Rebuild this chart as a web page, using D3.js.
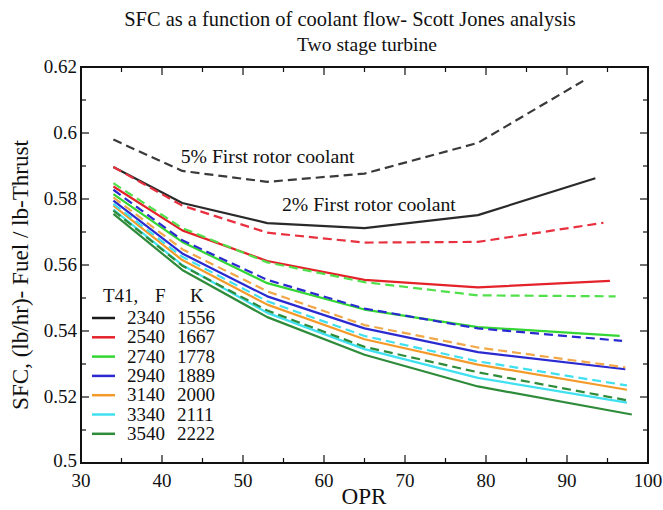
<!DOCTYPE html>
<html><head><meta charset="utf-8">
<script src="https://cdn.jsdelivr.net/npm/d3@7"></script>
<style>body{margin:0;background:#fff}</style>
</head><body><svg id="c" width="663" height="510"></svg>
<script>
// ---- data ----
const oprPoints = [34, 42.5, 53, 65, 79];
const seriesNames = ["5% rotor", "2340 solid", "2540 dashed", "2540 solid", "2740 dashed", "2740 solid", "2940 dashed", "2940 solid", "3140 dashed", "3140 solid", "3340 dashed", "3340 solid", "3540 dashed", "3540 solid"];
const seriesColors = ["#3a3a3a", "#2a2a2a", "#e8303f", "#e4222a", "#4fe04a", "#33d633", "#2a2ad0", "#2a2ad0", "#f2a848", "#f39a2a", "#3fe0f0", "#3fe0f0", "#2e8b3a", "#2e8b3a"];
const seriesDashed = [true, false, true, false, true, false, true, false, true, false, true, false, true, false];
const sfc5 = [0.598, 0.5885, 0.5852, 0.5877, 0.597, 0.6158];
const sfc2340 = [0.5897, 0.5788, 0.5727, 0.5712, 0.5751, 0.5863];
const sfc2540d = [0.5897, 0.578, 0.5698, 0.5668, 0.567, 0.5728];
const sfc2540 = [0.5838, 0.5705, 0.5612, 0.5555, 0.5532, 0.5552];
const sfc2740d = [0.5848, 0.5712, 0.5608, 0.5548, 0.5508, 0.5505];
const sfc2740 = [0.5815, 0.567, 0.5545, 0.5465, 0.5412, 0.5385];
const sfc2940d = [0.5828, 0.5675, 0.5555, 0.5468, 0.5408, 0.537];
const sfc2940 = [0.5795, 0.5635, 0.5505, 0.5408, 0.5336, 0.5284];
const sfc3140d = [0.5805, 0.5648, 0.552, 0.5418, 0.535, 0.529];
const sfc3140 = [0.578, 0.5615, 0.548, 0.5375, 0.5298, 0.5222];
const sfc3340d = [0.5785, 0.5625, 0.549, 0.5385, 0.5308, 0.5235];
const sfc3340 = [0.5768, 0.56, 0.5455, 0.5345, 0.5258, 0.5183];
const sfc3540d = [0.5765, 0.5598, 0.5462, 0.5352, 0.5275, 0.519];
const sfc3540 = [0.5755, 0.5585, 0.5442, 0.5328, 0.5232, 0.5147];
const endOpr = [92, 93.5, 94.5, 95.3, 96, 96.5, 96.8, 97.2, 97.2, 97.4, 97.4, 97.4, 97.4, 98];
const seriesValues = [sfc5, sfc2340, sfc2540d, sfc2540, sfc2740d, sfc2740, sfc2940d, sfc2940, sfc3140d, sfc3140, sfc3340d, sfc3340, sfc3540d, sfc3540];
const legendT41F = ["2340", "2540", "2740", "2940", "3140", "3340", "3540"];
const legendK = ["1556", "1667", "1778", "1889", "2000", "2111", "2222"];
const legendColors = ["#1a1a1a", "#e4222a", "#33d633", "#2a2ad0", "#f39a2a", "#3fe0f0", "#2e8b3a"];
const xTicks = [30, 40, 50, 60, 70, 80, 90, 100];
const yTicks = [0.5, 0.52, 0.54, 0.56, 0.58, 0.6, 0.62];
const yTickLabels = ["0.5", "0.52", "0.54", "0.56", "0.58", "0.6", "0.62"];

// ---- layout ----
const FONT = "'Liberation Serif', 'Times New Roman', 'DejaVu Serif', serif";
const svg = d3.select("#c");
const L = 81, R = 648, T = 67, B = 463;
const x = d3.scaleLinear().domain([30, 100]).range([L, R]);
const y = d3.scaleLinear().domain([0.5, 0.62]).range([B, T]);
function txt(xx, yy, s, size, anchor) {
  return svg.append("text").attr("x", xx).attr("y", yy).attr("font-family", FONT)
    .attr("font-size", size).attr("fill", "#111").attr("text-anchor", anchor || "start").text(s);
}
// scale font size so the text has the reference's width
function fit(sel, width) {
  const base = +sel.attr("font-size");
  const len = sel.node().getComputedTextLength();
  if (len > 0) sel.attr("font-size", (base * width / len).toFixed(2));
  return sel;
}

// series
const line = d3.line().x(d => x(d[0])).y(d => y(d[1]));
seriesValues.forEach((vals, i) => {
  const xs = oprPoints.concat([endOpr[i]]);
  const pts = vals.map((v, j) => [xs[j], v]);
  svg.append("path").attr("d", line(pts)).attr("fill", "none")
    .attr("stroke", seriesColors[i]).attr("stroke-width", 2.2)
    .attr("stroke-dasharray", seriesDashed[i] ? "9,5" : null)
    .attr("stroke-linejoin", "round");
});

// frame and ticks (inward)
const g = svg.append("g");
g.append("rect").attr("x", L).attr("y", T).attr("width", R - L).attr("height", B - T)
  .attr("fill", "none").attr("stroke", "#111").attr("stroke-width", 2);
const xMinor = d3.range(35, 100, 10);
const yMinor = d3.range(0.51, 0.62, 0.02);
function xt(vals, len) {
  vals.forEach(v => {
    g.append("line").attr("x1", x(v)).attr("x2", x(v)).attr("y1", B).attr("y2", B - len).attr("stroke", "#111").attr("stroke-width", 1.2);
    g.append("line").attr("x1", x(v)).attr("x2", x(v)).attr("y1", T).attr("y2", T + len).attr("stroke", "#111").attr("stroke-width", 1.2);
  });
}
function yt(vals, len) {
  vals.forEach(v => {
    g.append("line").attr("y1", y(v)).attr("y2", y(v)).attr("x1", L).attr("x2", L + len).attr("stroke", "#111").attr("stroke-width", 1.2);
    g.append("line").attr("y1", y(v)).attr("y2", y(v)).attr("x1", R).attr("x2", R - len).attr("stroke", "#111").attr("stroke-width", 1.2);
  });
}
xt(xTicks.slice(1, -1), 8); xt(xMinor, 5);
yt(yTicks.slice(1, -1), 8); yt(yMinor, 5);

// tick labels
const tickSize = 19;
xTicks.forEach(v => txt(x(v), B + 24, String(v), tickSize, "middle"));
yTicks.forEach((v, i) => txt(L - 4, y(v) + (i === 0 ? 4 : 6), yTickLabels[i], tickSize, "end"));

// titles
fit(txt(350, 26, "SFC as a function of coolant flow- Scott Jones analysis", 22, "middle"), 452);
fit(txt(367, 51, "Two stage turbine", 16, "middle"), 140);
fit(txt(364, 504, "OPR", 22, "middle"), 45);
fit(svg.append("text").attr("transform", "translate(28,275) rotate(-90)").attr("text-anchor", "middle")
  .attr("font-family", FONT).attr("font-size", 19).attr("fill", "#111").text("SFC,  (lb/hr)- Fuel / lb-Thrust"), 270);

// annotations
fit(txt(x(42.3), 163, "5% First rotor coolant", 17), 174);
fit(txt(x(54.8), 211, "2% First rotor coolant", 17), 174);

// legend
const legSize = 19;
txt(103, 302, "T41,", legSize);
txt(155, 302, "F", legSize);
txt(190, 302, "K", legSize);
legendT41F.forEach((t, i) => {
  const yy = 318 + i * 19.3;
  svg.append("line").attr("x1", 92).attr("x2", 115).attr("y1", yy).attr("y2", yy)
    .attr("stroke", legendColors[i]).attr("stroke-width", 2.5);
  txt(127, yy + 6, t, legSize);
  txt(177, yy + 6, legendK[i], legSize);
});
</script></body></html>
